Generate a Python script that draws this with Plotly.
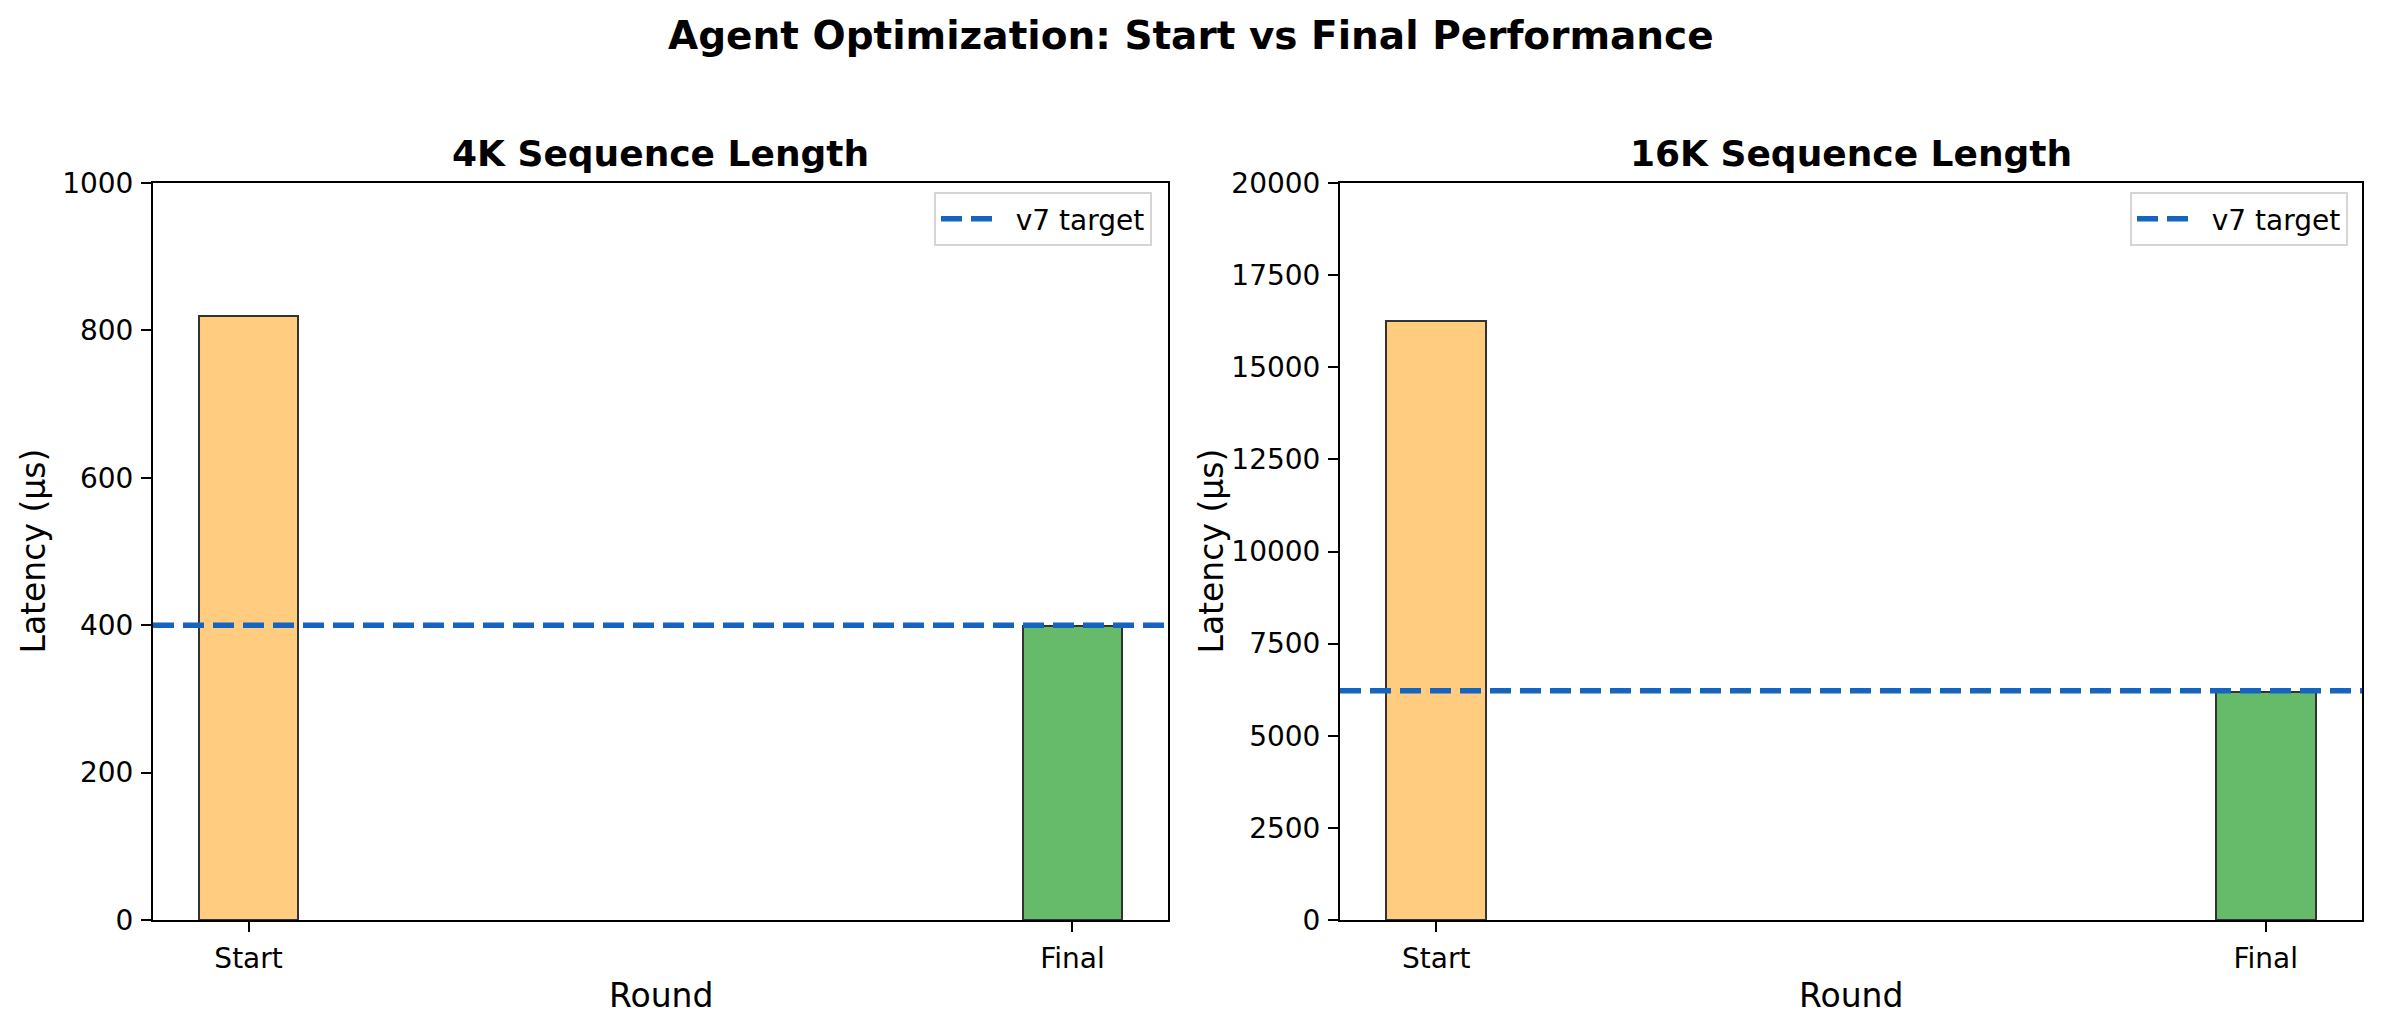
import plotly.graph_objects as go

# ---- data ----
rounds = ["Start", "Final"]
latency_4k = [820, 399]
latency_16k = [16260, 6200]
target_4k = 400
target_16k = 6220
bar_colors = ["#FFCC80", "#66BB6A"]
y_ticks_4k = [0, 200, 400, 600, 800, 1000]
y_ticks_16k = [0, 2500, 5000, 7500, 10000, 12500, 15000, 17500, 20000]
target_label = "v7 target"

W, H = 2382, 1033
FONT = "DejaVu Sans"
BLUE = "#1565C0"

x_pos = list(range(len(rounds)))

fig = go.Figure()

panels = [
    ("x", "y", latency_4k, target_4k, "legend"),
    ("x2", "y2", latency_16k, target_16k, "legend2"),
]
for xa, ya, vals, tgt, leg in panels:
    fig.add_trace(go.Bar(
        x=x_pos, y=vals, width=0.12,
        marker=dict(color=bar_colors, line=dict(color="#333333", width=2)),
        xaxis=xa, yaxis=ya, showlegend=False,
    ))
    fig.add_shape(type="line", xref=f"{xa} domain", yref=ya,
                  x0=0, x1=1, y0=tgt, y1=tgt,
                  line=dict(color=BLUE, width=5.5, dash="21px,9px"))
    fig.add_trace(go.Scatter(
        x=[None], y=[None], mode="lines", name="\u00a0\u00a0" + target_label,
        line=dict(color=BLUE, width=5.5, dash="21px,9px"),
        xaxis=xa, yaxis=ya, legend=leg,
    ))

dom_l = [153 / W, 1168 / W]
dom_r = [1340 / W, 2362 / W]
dom_y = [1 - 920 / H, 1 - 183 / H]

axis_common = dict(
    showline=True, mirror=True, linecolor="black", linewidth=2,
    ticks="outside", ticklen=10, tickwidth=2, tickcolor="black",
    showgrid=False, zeroline=False, ticklabelstandoff=2,
    tickfont=dict(family=FONT, size=28, color="black"),
)

legend_common = dict(
    xanchor="right", y=1 - 192 / H, yanchor="top",
    bgcolor="white", bordercolor="#d5d5d5", borderwidth=2,
    itemwidth=52,
    font=dict(family=FONT, size=28, color="black"),
)

fig.update_layout(
    autosize=True,
    margin=dict(l=0, r=0, t=0, b=0, autoexpand=False),
    paper_bgcolor="white", plot_bgcolor="white",
    font=dict(family=FONT, color="black"),
    xaxis=dict(domain=dom_l, anchor="y", range=[-0.116, 1.116],
               tickvals=x_pos, ticktext=rounds, **axis_common),
    yaxis=dict(domain=dom_y, anchor="x", range=[0, 1000],
               tickvals=y_ticks_4k, ticktext=[str(v) for v in y_ticks_4k],
               **axis_common),
    xaxis2=dict(domain=dom_r, anchor="y2", range=[-0.116, 1.116],
                tickvals=x_pos, ticktext=rounds, **axis_common),
    yaxis2=dict(domain=dom_y, anchor="x2", range=[0, 20000],
                tickvals=y_ticks_16k, ticktext=[str(v) for v in y_ticks_16k],
                **axis_common),
    legend=dict(x=1152 / W, **legend_common),
    legend2=dict(x=2348 / W, **legend_common),
    bargap=0,
)

ann = []
ann.append(dict(text="<b>Agent Optimization: Start vs Final Performance</b>",
                x=0.5, y=1 - 36 / H, xref="paper", yref="paper",
                xanchor="center", yanchor="middle", showarrow=False,
                font=dict(family=FONT, size=39, color="black")))
for dom, title in [(dom_l, "4K Sequence Length"), (dom_r, "16K Sequence Length")]:
    cx = (dom[0] + dom[1]) / 2
    ann.append(dict(text=f"<b>{title}</b>", x=cx, y=1 - 153 / H,
                    xref="paper", yref="paper", xanchor="center", yanchor="middle",
                    showarrow=False, font=dict(family=FONT, size=36, color="black")))
    ann.append(dict(text="Round", x=cx, y=1 - 995 / H,
                    xref="paper", yref="paper", xanchor="center", yanchor="middle",
                    showarrow=False, font=dict(family=FONT, size=33, color="black")))
cy = (dom_y[0] + dom_y[1]) / 2
for xl in [33 / W, 1211 / W]:
    ann.append(dict(text="Latency (μs)", x=xl, y=cy, textangle=-90,
                    xref="paper", yref="paper", xanchor="center", yanchor="middle",
                    showarrow=False, font=dict(family=FONT, size=33, color="black")))
fig.update_layout(annotations=ann)

fig.write_html(
    "out.html",
    default_width="100vw",
    default_height="100vh",
    config={"displayModeBar": False, "responsive": True},
    post_script=("document.body.style.margin='0';"
                 "document.body.style.overflow='hidden';"
                 "window.dispatchEvent(new Event('resize'));"),
)
